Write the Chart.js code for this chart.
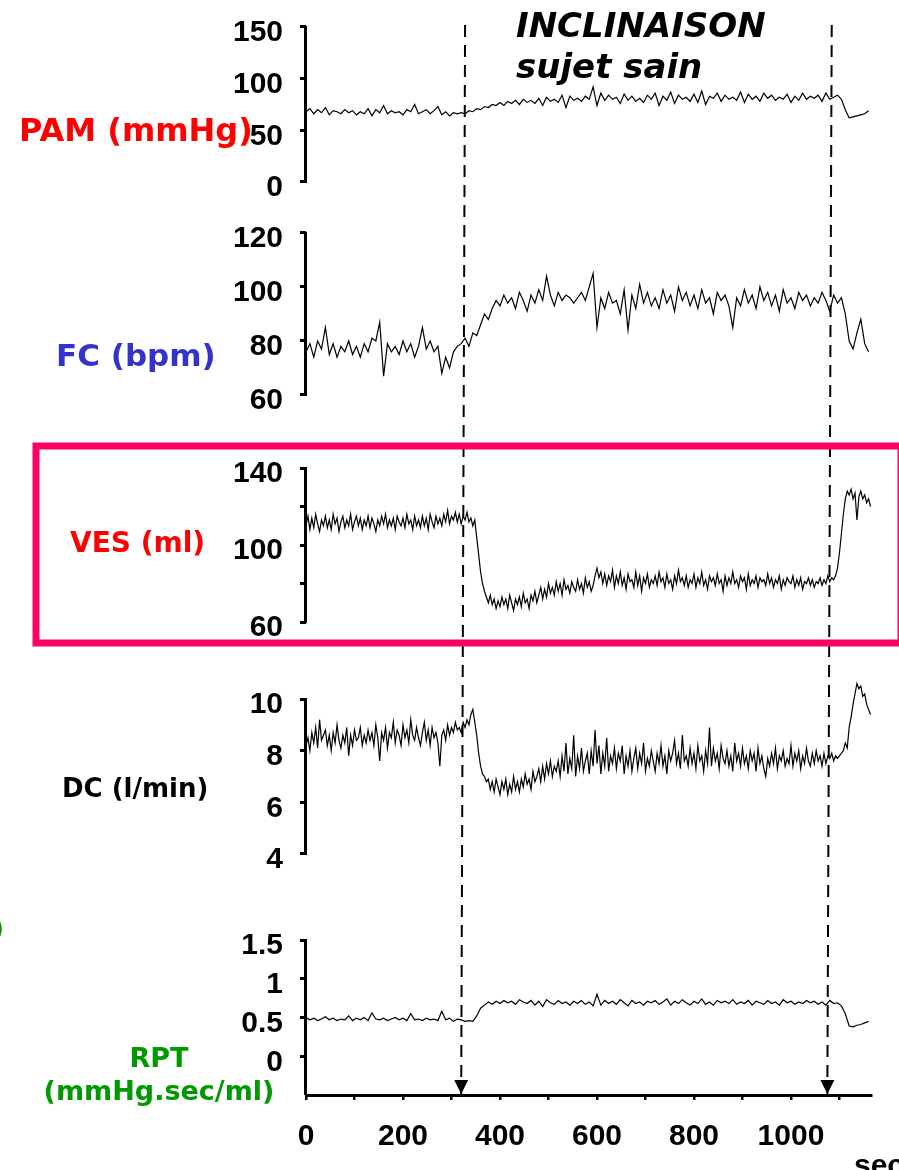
<!DOCTYPE html>
<html>
<head>
<meta charset="utf-8">
<script src="https://cdn.jsdelivr.net/npm/chart.js@4.4.0/dist/chart.umd.min.js"></script>
<style>
html, body { margin: 0; padding: 0; background: #fff; }
canvas { display: block; }
</style>
</head>
<body>
<canvas id="tilt" width="899" height="1170"></canvas>
<script>
// PAM, FC and RPT were read every 8 sec off the recording,
// VES and DC (much busier traces) every 4 sec
var slowStep = 8;
var fastStep = 4;

var pam = [
    68, 71, 66, 70, 67, 72, 65, 69, 68, 66,
    70, 67, 69, 65, 68, 66, 71, 64, 70, 67,
    74, 66, 69, 67, 68, 65, 70, 68, 75, 66,
    68, 70, 66, 69, 73, 65, 68, 64, 67, 66,
    67, 66, 69, 68, 71, 70, 73, 72, 75, 74,
    77, 74, 78, 76, 79, 75, 80, 77, 79, 76,
    81, 74, 82, 78, 80, 77, 84, 72, 83, 79,
    81, 78, 83, 80, 92, 74, 86, 79, 84, 80,
    82, 76, 85, 79, 83, 78, 81, 77, 84, 80,
    86, 74, 83, 79, 87, 76, 84, 80, 82, 78,
    85, 77, 88, 75, 83, 81, 86, 78, 84, 80,
    82, 79, 87, 77, 85, 80, 83, 78, 86, 81,
    84, 79, 82, 80, 85, 77, 83, 79, 86, 80,
    83, 81, 84, 78, 86, 80, 82, 84, 80, 70,
    62, 63, 64, 65, 66, 69
];

var fc = [
    76, 79, 74, 80, 77, 85, 75, 79, 74, 78,
    76, 80, 75, 78, 74, 79, 76, 81, 80, 87,
    67, 79, 76, 78, 75, 80, 76, 79, 74, 78,
    85, 77, 80, 76, 78, 68, 74, 70, 76, 78,
    79, 81, 78, 83, 82, 86, 90, 88, 92, 95,
    93, 97, 94, 96, 92, 98, 95, 91, 97, 94,
    99, 95, 104, 97, 93, 98, 95, 97, 96, 94,
    96, 98, 95, 100, 105, 85, 96, 92, 98, 94,
    95, 90, 99, 84, 97, 92, 101, 94, 98, 93,
    96, 92, 99, 94, 97, 91, 100, 95, 98, 93,
    97, 92, 99, 94, 96, 90, 98, 95, 97, 93,
    85, 96, 93, 99, 94, 97, 92, 100, 95, 98,
    93, 97, 91, 99, 94, 96, 92, 98, 95, 97,
    93, 96, 94, 98, 95, 91, 97, 94, 96, 90,
    80, 77, 83, 88, 79, 76
];

var ves = [
    110, 115, 108, 114, 109, 116, 111, 107, 113, 110,
    115, 109, 113, 108, 116, 111, 114, 107, 112, 115,
    109, 113, 110, 116, 108, 112, 115, 110, 114, 108,
    113, 110, 115, 109, 114, 111, 107, 113, 110, 115,
    111, 116, 109, 113, 110, 114, 108, 115, 112, 110,
    114, 109, 116, 111, 113, 108, 115, 110, 113, 109,
    115, 110, 114, 108, 116, 112, 109, 115, 111, 114,
    110, 116, 112, 118, 111, 115, 113, 117, 112, 116,
    111, 115, 113, 117, 112, 114, 110, 113, 104, 95,
    86, 80, 76, 73, 70, 74, 69, 72, 67, 71,
    68, 73, 69, 72, 67, 74, 70, 66, 72, 69,
    73, 68, 75, 70, 72, 67, 74, 71, 76, 70,
    74, 78, 72, 77, 73, 80, 75, 78, 74, 81,
    76, 80, 74, 82, 77, 79, 75, 81, 78, 76,
    82, 77, 80, 75, 83, 78, 81, 76, 79, 84,
    88, 83, 86, 80, 85, 79, 84, 81, 87, 78,
    84, 80, 86, 79, 83, 77, 85, 81, 82, 78,
    86, 79, 84, 76, 83, 80, 85, 78, 82, 80,
    84, 79, 86, 81, 83, 78, 85, 80, 82, 77,
    84, 80, 87, 81, 83, 79, 84, 78, 82, 80,
    85, 78, 83, 80, 86, 79, 82, 77, 84, 81,
    83, 79, 85, 80, 82, 76, 84, 79, 83, 80,
    86, 80, 82, 78, 84, 81, 83, 77, 85, 79,
    82, 80, 84, 78, 83, 81, 82, 79, 85, 80,
    83, 78, 82, 80, 84, 77, 82, 79, 83, 81,
    80, 84, 78, 82, 79, 83, 77, 81, 80, 83,
    79, 82, 78, 81, 80, 83, 79, 82, 80, 84,
    81, 83, 82, 84, 88, 96, 106, 116, 124, 128,
    126, 129, 124, 127, 113, 125, 128, 124, 126, 122,
    124, 120
];

var dc = [
    8.2, 8.5, 8.0, 8.7, 8.3, 8.9, 8.1, 9.2, 8.4, 8.6,
    8.8, 8.2, 8.6, 8.0, 8.7, 8.3, 9.0, 8.4, 8.1, 8.6,
    8.3, 8.9, 7.8, 8.6, 8.2, 8.8, 8.4, 8.5, 8.9, 8.2,
    8.6, 8.3, 8.8, 8.4, 8.7, 8.2, 9.0, 8.5, 7.6, 8.7,
    8.4, 8.9, 8.1, 8.7, 8.5, 9.1, 8.3, 8.8, 8.6, 8.2,
    9.0, 8.5, 8.8, 8.3, 9.2, 8.6, 8.4, 8.9, 8.5, 8.2,
    8.7, 9.1, 8.4, 8.8, 8.2, 8.9, 8.5, 8.7, 8.3, 7.4,
    8.6, 8.8, 8.4, 9.0, 8.6, 8.9, 8.7, 9.1, 8.8, 8.9,
    8.7, 9.1, 8.9, 9.2, 9.0, 9.4, 9.6, 9.1, 8.6, 7.9,
    7.4, 7.1, 7.0, 6.8, 6.9, 6.5, 6.8, 6.4, 6.9, 6.6,
    6.3, 6.8, 6.5, 6.9, 6.3, 6.7, 6.4, 7.0, 6.5, 6.8,
    6.4, 6.9, 6.6, 7.1, 6.7, 6.9, 6.5, 7.2, 6.8, 7.0,
    7.3, 6.8, 7.4, 6.9, 7.5, 7.1, 7.6, 7.0, 7.4, 7.2,
    7.6, 7.0, 7.8, 7.2, 8.3, 7.1, 7.7, 7.3, 8.6, 7.0,
    7.8, 7.3, 8.1, 7.2, 7.6, 7.9, 7.1, 8.0, 7.4, 8.8,
    7.5, 8.2, 7.1, 7.9, 7.4, 8.5, 7.2, 7.8, 7.5, 8.1,
    7.3, 7.9, 7.6, 8.2, 7.1, 7.8, 7.4, 8.0, 7.2, 7.7,
    8.1, 7.3, 7.9, 7.5, 8.3, 7.2, 7.7, 7.4, 8.0, 7.6,
    7.2, 7.9, 7.5, 8.2, 7.4, 7.8, 7.1, 8.0, 7.6, 7.9,
    8.4, 7.5, 7.9, 7.3, 8.6, 7.6, 7.8, 7.4, 8.1, 7.5,
    7.9, 7.3, 8.2, 7.6, 7.8, 7.2, 8.0, 7.5, 8.9, 7.4,
    8.1, 7.6, 7.9, 7.3, 8.2, 7.7, 7.5, 8.0, 7.4, 7.8,
    7.2, 8.3, 7.6, 7.9, 7.4, 8.1, 7.5, 7.8, 7.3, 8.0,
    7.6, 7.9, 7.2, 8.1, 7.5, 7.8, 7.3, 7.0, 7.7, 7.4,
    7.9, 7.5, 8.1, 7.3, 7.8, 7.6, 8.0, 7.4, 7.7, 7.5,
    8.2, 7.4, 7.9, 7.6, 8.0, 7.3, 7.8, 7.5, 8.1, 7.6,
    7.4, 7.9, 7.5, 8.0, 7.6, 7.8, 7.4, 7.9, 7.5, 7.8,
    7.7, 7.9, 7.6, 7.8, 7.7, 7.8, 7.9, 8.0, 8.3, 8.1,
    8.9, 9.3, 9.8, 10.2, 10.6, 10.4, 10.5, 10.1, 10.2, 9.8,
    9.6, 9.4
];

var rpt = [
    0.50, 0.47, 0.49, 0.46, 0.48, 0.51, 0.47, 0.49, 0.46, 0.48,
    0.47, 0.52, 0.46, 0.49, 0.47, 0.50, 0.46, 0.56, 0.48, 0.47,
    0.49, 0.46, 0.48, 0.50, 0.47, 0.49, 0.46, 0.55, 0.47, 0.48,
    0.46, 0.49, 0.47, 0.48, 0.46, 0.58, 0.47, 0.49, 0.45, 0.48,
    0.47, 0.45, 0.46, 0.45, 0.52, 0.62, 0.66, 0.70, 0.67, 0.71,
    0.68, 0.72, 0.69, 0.71, 0.67, 0.73, 0.70, 0.68, 0.72, 0.66,
    0.71, 0.64, 0.73, 0.69, 0.67, 0.72, 0.68, 0.70, 0.66, 0.71,
    0.68, 0.72, 0.67, 0.70, 0.65, 0.80, 0.66, 0.72, 0.68, 0.71,
    0.67, 0.73, 0.69, 0.65, 0.72, 0.68, 0.70, 0.66, 0.71, 0.69,
    0.72, 0.67, 0.70, 0.74, 0.66, 0.71, 0.68, 0.73, 0.69, 0.66,
    0.71, 0.68, 0.74, 0.67, 0.70, 0.66, 0.72, 0.69, 0.71, 0.68,
    0.73, 0.67, 0.70, 0.68, 0.72, 0.66, 0.71, 0.69, 0.67, 0.72,
    0.68, 0.70, 0.66, 0.73, 0.69, 0.71, 0.67, 0.70, 0.68, 0.72,
    0.69, 0.71, 0.67, 0.70, 0.66, 0.72, 0.68, 0.69, 0.65, 0.55,
    0.39, 0.38, 0.40, 0.41, 0.43, 0.45
];

// x axis
var timeTicks = [0, 100, 200, 300, 400, 500, 600, 700, 800, 900, 1000, 1100];
var timeLabels = [0, 200, 400, 600, 800, 1000];

// tilt start / end markers (sec at top, sec at the arrow)
var tiltOn = [328, 320];
var tiltOff = [1084, 1075];

// y ticks of each panel, and which of them carry a label
var pamTicks = [0, 50, 100, 150];
var fcTicks = [60, 80, 100, 120];
var vesTicks = [60, 80, 100, 120, 140];
var vesLabels = [60, 100, 140];
var dcTicks = [4, 6, 8, 10];
var rptTicks = [0, 0.5, 1, 1.5];

function toPoints(values, step) {
    return values.map(function (v, i) { return { x: i * step, y: v }; });
}

function trace(values, step, axis) {
    return {
        data: toPoints(values, step),
        yAxisID: axis,
        borderColor: '#000',
        borderWidth: 1.2,
        pointRadius: 0,
        tension: 0
    };
}

function marker(pos) {
    return {
        data: [{ x: pos[0], y: 1 }, { x: pos[1], y: 0 }],
        yAxisID: 'yFull',
        borderColor: '#000',
        borderWidth: 2,
        borderDash: [12, 8],
        pointRadius: 0,
        arrow: true
    };
}

function panelAxis(min, max, ticks, labels, weight) {
    return {
        type: 'linear',
        position: 'left',
        stack: 'panels',
        stackWeight: weight,
        min: min,
        max: max,
        border: { display: false },
        grid: { drawOnChartArea: false, tickLength: 6, lineWidth: 3, color: '#000' },
        ticks: {
            padding: 17,
            labelOffset: 6,
            color: '#000',
            autoSkip: false,
            font: { size: 30, weight: 'bold' },
            callback: function (v) { return labels.indexOf(v) >= 0 ? String(v) : ''; }
        },
        afterBuildTicks: function (s) { s.ticks = ticks.map(function (v) { return { value: v }; }); },
        afterFit: function (s) {
            s.width = 306;
            // labels sit inside their own panel, they need no extra room above/below the plot
            s.paddingTop = 0;
            s.paddingBottom = 0;
        }
    };
}

// vertical axis line of every panel, from top tick to bottom tick
var axisLines = {
    id: 'axisLines',
    afterDraw: function (chart) {
        var ctx = chart.ctx;
        var x = chart.chartArea.left - 0.5;
        var spans = [['yPam', pamTicks], ['yFc', fcTicks], ['yVes', vesTicks], ['yDc', dcTicks]];
        ctx.save();
        ctx.strokeStyle = '#000';
        ctx.lineWidth = 3;
        spans.forEach(function (s) {
            var sc = chart.scales[s[0]];
            ctx.beginPath();
            ctx.moveTo(x, sc.getPixelForValue(s[1][s[1].length - 1]) - 1);
            ctx.lineTo(x, sc.getPixelForValue(s[1][0]) + 1);
            ctx.stroke();
        });
        var r = chart.scales.yRpt;
        ctx.beginPath();
        ctx.moveTo(x, r.getPixelForValue(rptTicks[rptTicks.length - 1]) - 1);
        ctx.lineTo(x, chart.chartArea.bottom);
        ctx.stroke();
        ctx.restore();
    }
};

// arrow heads at the foot of the tilt markers
var arrowHeads = {
    id: 'arrowHeads',
    afterDatasetsDraw: function (chart) {
        var ctx = chart.ctx;
        ctx.save();
        ctx.fillStyle = '#000';
        chart.data.datasets.forEach(function (ds, i) {
            if (!ds.arrow) return;
            var pts = chart.getDatasetMeta(i).data;
            var tip = pts[pts.length - 1];
            ctx.beginPath();
            ctx.moveTo(tip.x, tip.y - 1);
            ctx.lineTo(tip.x - 7, tip.y - 15);
            ctx.lineTo(tip.x + 7, tip.y - 15);
            ctx.closePath();
            ctx.fill();
        });
        ctx.restore();
    }
};

// panel names, title and the pink frame round the stroke volume panel
var decorations = {
    id: 'decorations',
    afterDraw: function (chart) {
        var ctx = chart.ctx;
        ctx.save();
        ctx.textBaseline = 'middle';
        var dv = 'bold {s}px "DejaVu Sans"';
        function put(txt, x, y, size, color, align, family) {
            ctx.font = (family || dv).replace('{s}', size);
            ctx.fillStyle = color;
            ctx.textAlign = align || 'left';
            ctx.fillText(txt, x, y);
        }
        put('PAM (mmHg)', 19, 133, 32, '#ff0000');
        put('FC (bpm)', 56, 358, 31, '#3333cc');
        put('VES (ml)', 70, 545, 28, '#ff0000');
        put('DC (l/min)', 62, 790, 26, '#000');
        put('RPT', 159, 1060, 27, '#009900', 'center');
        put('(mmHg.sec/ml)', 159, 1093, 27, '#009900', 'center');
        put(')', 4, 930, 27, '#009900', 'right');
        put('sec', 854, 1167, 30, '#000', 'left', 'bold {s}px "Liberation Sans"');

        ctx.textBaseline = 'alphabetic';
        ctx.font = 'italic bold 34px "DejaVu Sans"';
        ctx.fillStyle = '#000';
        ctx.textAlign = 'left';
        ctx.fillText('INCLINAISON', 516, 37);
        ctx.fillText('sujet sain', 516, 78);

        ctx.strokeStyle = '#ff0066';
        ctx.lineWidth = 7;
        ctx.strokeRect(36, 446, 865, 197);
        ctx.restore();
    }
};

Chart.defaults.font.family = '"Liberation Sans", Arial, sans-serif';
Chart.defaults.font.weight = 'bold';
Chart.defaults.color = '#000';

// stacked left axes are laid out bottom-up, so the lowest panel comes first
new Chart(document.getElementById('tilt').getContext('2d'), {
    type: 'line',
    data: {
        datasets: [
            trace(pam, slowStep, 'yPam'),
            trace(fc, slowStep, 'yFc'),
            trace(ves, fastStep, 'yVes'),
            trace(dc, fastStep, 'yDc'),
            trace(rpt, slowStep, 'yRpt'),
            marker(tiltOn),
            marker(tiltOff)
        ]
    },
    options: {
        responsive: false,
        animation: false,
        events: [],
        layout: { padding: { top: 25, right: 28, bottom: 0, left: 0 } },
        plugins: { legend: { display: false }, tooltip: { enabled: false } },
        scales: {
            x: {
                type: 'linear',
                min: 0,
                max: 1165,
                border: { display: true, width: 3, color: '#000' },
                grid: { drawOnChartArea: false, tickLength: 5, lineWidth: 2.5, color: '#000' },
                ticks: {
                    padding: 19,
                    autoSkip: false,
                    maxRotation: 0,
                    color: '#000',
                    font: { size: 30, weight: 'bold' },
                    callback: function (v) { return timeLabels.indexOf(v) >= 0 ? String(v) : ''; }
                },
                afterBuildTicks: function (s) { s.ticks = timeTicks.map(function (v) { return { value: v }; }); },
                afterFit: function (s) { s.height = 75; }
            },
            yRpt: panelAxis(-0.5, 2.055, rptTicks, rptTicks, 198),
            yDc: panelAxis(2.335, 11.51, dcTicks, dcTicks, 237),
            yVes: panelAxis(40.3, 158.7, vesTicks, vesLabels, 228),
            yFc: panelAxis(46.3, 129.6, fcTicks, fcTicks, 225),
            yPam: panelAxis(-24.2, 151.9, pamTicks, pamTicks, 182),
            yFull: { type: 'linear', position: 'left', display: false, min: 0, max: 1 }
        }
    },
    plugins: [axisLines, arrowHeads, decorations]
});
</script>
</body>
</html>
